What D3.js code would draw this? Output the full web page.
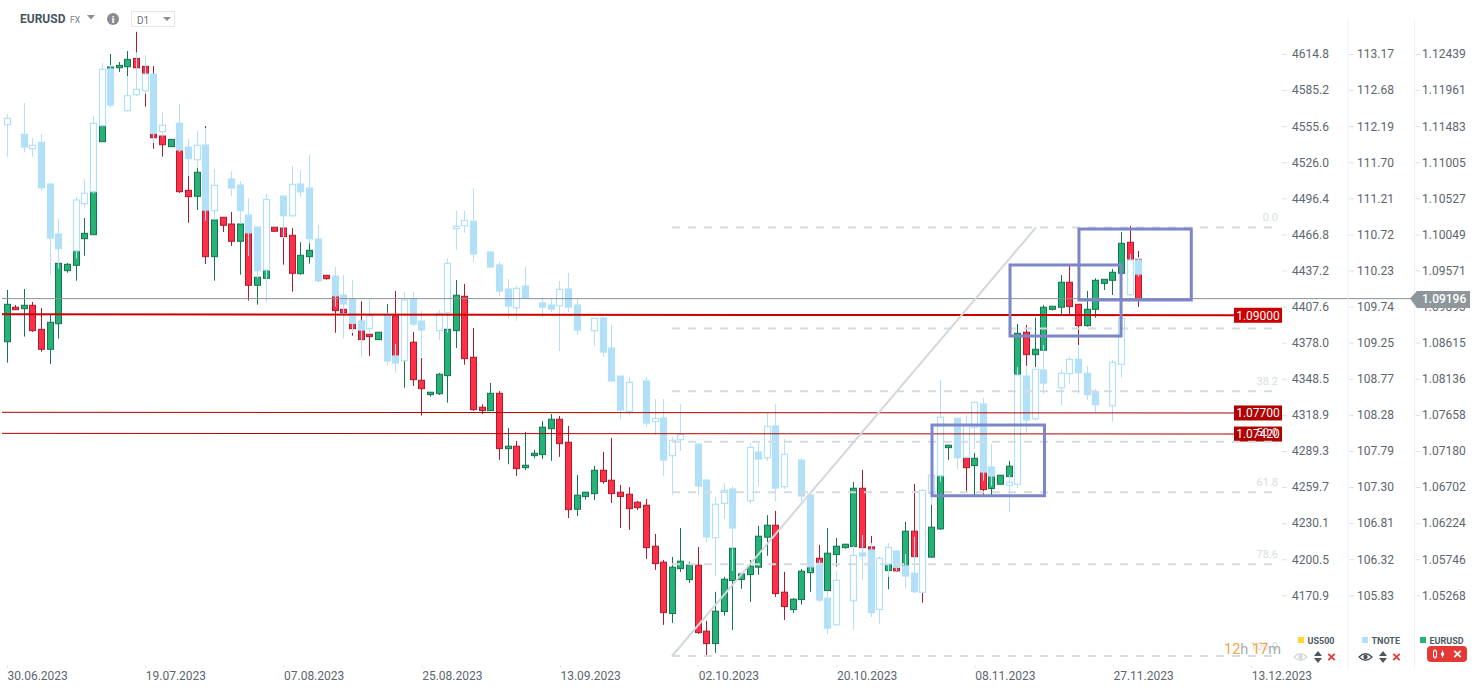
<!DOCTYPE html>
<html>
<head>
<meta charset="utf-8">
<script src="https://cdn.jsdelivr.net/npm/d3@7/dist/d3.min.js"></script>
<style>
html,body{margin:0;padding:0;background:#fff;}
svg{display:block;font-family:Roboto,sans-serif;}
</style>
</head>
<body>
<svg id="c" width="1482" height="694"></svg>
<script>
const eurOpen=[1.08627,1.09082,1.09063,1.09108,1.08791,1.08527,1.08865,1.09565,1.09636,1.09987,1.10040,1.11268,1.12214,1.12244,1.12258,1.12368,1.12263,1.11950,1.11343,1.11202,1.11237,1.10626,1.10547,1.10868,1.09750,1.10270,1.10181,1.09953,1.10168,1.09372,1.09464,1.10138,1.10128,1.10032,1.09525,1.09750,1.09746,1.09504,1.09442,1.09055,1.08870,1.08782,1.08725,1.08654,1.08742,1.08967,1.08412,1.08620,1.08118,1.07928,1.07941,1.08179,1.08773,1.09227,1.08422,1.07762,1.07717,1.07946,1.07215,1.07247,1.06964,1.07123,1.07136,1.07479,1.07603,1.07300,1.06415,1.06582,1.06621,1.06930,1.06798,1.06640,1.06613,1.06508,1.06468,1.05927,1.05716,1.05037,1.05631,1.05486,1.05676,1.04805,1.04641,1.05064,1.05473,1.05486,1.05552,1.05650,1.06046,1.06204,1.05320,1.05090,1.05222,1.05578,1.05768,1.05341,1.05816,1.05908,1.05922,1.06692,1.05918,1.05693,1.05605,1.05650,1.05588,1.06125,1.05812,1.05782,1.06155,1.07228,1.07231,1.07096,1.06991,1.07000,1.06688,1.06745,1.06846,1.08188,1.08752,1.08456,1.08514,1.09055,1.09082,1.09412,1.09121,1.08839,1.09055,1.09398,1.09438,1.09530,1.09940,1.09715];
const eurHigh=[1.09310,1.09112,1.09323,1.09152,1.09072,1.08980,1.09667,1.09667,1.09838,1.10260,1.10617,1.11502,1.12425,1.12320,1.12465,1.12719,1.12266,1.12266,1.11356,1.11299,1.11250,1.10815,1.10920,1.11475,1.10366,1.10274,1.10340,1.10181,1.10208,1.09561,1.09574,1.10138,1.10168,1.10128,1.09940,1.09926,1.09759,1.09508,1.09455,1.09508,1.08914,1.09161,1.08782,1.08752,1.09125,1.09297,1.08650,1.08756,1.08412,1.07964,1.08214,1.08848,1.09442,1.09389,1.08808,1.07801,1.08082,1.07977,1.07488,1.07317,1.07436,1.07198,1.07581,1.07673,1.07647,1.07515,1.06868,1.06644,1.06987,1.07172,1.07356,1.06736,1.06706,1.06525,1.06551,1.06089,1.05746,1.05786,1.06168,1.05720,1.05918,1.04941,1.05324,1.05522,1.05931,1.05574,1.05746,1.06195,1.06336,1.06393,1.05588,1.05244,1.05627,1.05878,1.05944,1.06168,1.06036,1.05957,1.06776,1.06934,1.06063,1.05706,1.05720,1.05654,1.06248,1.06749,1.05825,1.06472,1.06868,1.07264,1.07238,1.07106,1.07158,1.07000,1.06934,1.06864,1.07053,1.08861,1.08848,1.08944,1.09112,1.09099,1.09508,1.09627,1.09125,1.09297,1.09464,1.09455,1.09587,1.10076,1.10155,1.09825];
const eurLow=[1.08350,1.09046,1.08694,1.08756,1.08496,1.08333,1.08667,1.09538,1.09433,1.09763,1.10036,1.11264,1.12214,1.12188,1.12135,1.12240,1.11730,1.11175,1.11070,1.11202,1.10590,1.10198,1.10366,1.09653,1.09433,1.10076,1.09891,1.09512,1.09169,1.09116,1.09455,1.10085,1.09644,1.09288,1.09512,1.09657,1.09420,1.09446,1.08746,1.09006,1.08707,1.08637,1.08439,1.08654,1.08716,1.08386,1.08020,1.08043,1.07651,1.07902,1.07924,1.07822,1.08544,1.08324,1.07713,1.07673,1.07713,1.07066,1.07009,1.06855,1.06934,1.07092,1.07079,1.07053,1.07106,1.06300,1.06327,1.06542,1.06538,1.06753,1.06498,1.06168,1.06142,1.06406,1.05759,1.05614,1.04888,1.04914,1.05588,1.05442,1.04769,1.04483,1.04518,1.05011,1.04822,1.05363,1.05192,1.05548,1.05799,1.05258,1.04954,1.05046,1.05156,1.05324,1.05218,1.05341,1.05658,1.05895,1.05878,1.05838,1.05667,1.05588,1.05359,1.05592,1.05575,1.05772,1.05182,1.05779,1.06142,1.07066,1.07092,1.06648,1.06604,1.06604,1.06604,1.06745,1.06846,1.08122,1.08307,1.08294,1.08514,1.09037,1.08980,1.08993,1.08584,1.08826,1.08944,1.09310,1.09244,1.09530,1.09680,1.09086];
const eurClose=[1.09121,1.09050,1.09108,1.08773,1.08527,1.08884,1.09662,1.09649,1.09829,1.10058,1.10608,1.11475,1.12254,1.12276,1.12355,1.12244,1.11950,1.11320,1.11228,1.11299,1.10608,1.10542,1.10864,1.09750,1.10234,1.10164,1.09953,1.10181,1.09372,1.09478,1.09565,1.10085,1.10014,1.09530,1.09768,1.09834,1.09442,1.09459,1.09037,1.09010,1.08799,1.08654,1.08694,1.08752,1.08967,1.08412,1.08624,1.08126,1.08007,1.07960,1.08197,1.08791,1.09240,1.08403,1.07730,1.07717,1.07946,1.07215,1.07247,1.06951,1.06996,1.07154,1.07498,1.07603,1.07281,1.06410,1.06600,1.06640,1.06930,1.06780,1.06621,1.06582,1.06423,1.06436,1.05908,1.05697,1.05050,1.05650,1.05729,1.05676,1.04786,1.04641,1.05069,1.05491,1.05900,1.05561,1.05663,1.06059,1.06204,1.05301,1.05130,1.05227,1.05597,1.05772,1.05350,1.05834,1.05927,1.05953,1.06692,1.05908,1.05693,1.05614,1.05693,1.05601,1.06125,1.05789,1.05772,1.06178,1.06859,1.07260,1.07106,1.06964,1.07088,1.06674,1.06855,1.06864,1.06983,1.08738,1.08456,1.08527,1.09082,1.09095,1.09412,1.09090,1.08839,1.09055,1.09438,1.09451,1.09544,1.09926,1.09706,1.09196];

// TNOTE: one entry per bar, null where the bond market has no bar
const tnOpen=[112.199,null,112.069,111.874,111.961,111.396,110.720,null,110.494,111.130,111.292,112.186,112.953,null,112.389,112.605,112.659,112.885,112.104,null,112.218,111.897,111.725,111.924,111.035,null,111.464,111.383,110.977,110.814,110.232,null,111.234,110.967,111.396,111.342,110.652,null,110.151,109.894,109.836,109.542,109.438,null,109.623,109.068,109.005,109.836,109.542,null,109.411,109.654,110.791,110.832,110.891,null,110.476,110.300,109.975,109.722,110.016,null,109.786,109.759,109.749,109.975,109.759,null,109.411,109.583,109.176,108.797,108.320,null,108.730,108.179,108.229,107.719,107.935,null,107.877,107.390,106.608,107.074,107.268,null,107.110,107.769,107.688,108.121,107.299,null,107.660,107.187,106.262,105.788,105.431,null,105.756,106.402,106.442,105.639,106.253,106.429,106.226,106.127,105.870,107.210,107.448,null,108.225,107.697,108.103,108.418,107.566,null,107.318,107.332,108.797,108.219,108.879,null,108.639,108.829,109.023,108.834,108.590,null,108.396,108.956,109.898,110.368];
const tnHigh=[112.344,null,112.493,112.019,112.073,111.410,110.923,null,111.220,111.464,112.317,113.034,113.007,null,112.858,113.179,113.143,112.885,112.371,null,112.479,112.005,112.114,112.154,111.599,null,111.568,111.437,111.207,110.814,111.261,null,111.234,111.640,111.586,111.789,110.841,null,110.273,110.165,110.097,109.542,109.836,null,109.654,109.231,109.935,109.935,109.677,null,109.691,110.395,111.031,111.031,111.342,null,110.490,110.341,110.110,110.016,110.273,null,109.867,109.853,110.083,110.192,109.853,null,109.583,109.596,109.488,108.797,108.784,null,108.784,108.486,108.486,107.972,108.418,null,107.877,107.390,107.160,107.349,107.309,null,107.891,107.918,108.297,108.418,107.945,null,107.688,107.187,106.307,105.891,106.158,null,106.496,106.645,106.537,106.361,106.537,106.429,106.388,106.622,107.268,107.453,108.743,null,108.225,108.270,108.442,108.500,107.877,null,107.457,108.919,108.919,108.888,109.217,null,108.892,109.055,109.217,108.933,108.622,null,109.014,109.583,110.449,110.404];
const tnLow=[111.766,null,111.830,111.766,111.306,110.169,110.250,null,110.385,111.076,111.270,112.181,112.429,null,112.375,112.588,112.615,111.951,112.037,null,111.830,111.505,111.613,110.900,110.909,null,111.234,110.855,110.422,110.120,109.803,null,110.665,110.954,111.224,110.598,110.083,null,109.736,109.308,109.380,109.059,109.366,null,108.937,108.842,109.001,109.474,109.055,null,109.285,109.384,110.503,110.737,110.341,null,110.273,109.880,109.569,109.546,109.853,null,109.596,109.664,109.136,109.664,109.352,null,109.204,109.055,108.716,108.215,108.270,null,108.107,107.999,107.444,107.187,107.782,null,107.187,106.537,106.090,106.862,106.158,null,107.078,107.309,107.647,107.105,107.268,null,107.105,106.144,105.729,105.305,105.413,null,105.359,106.036,105.535,105.441,106.077,106.158,105.918,105.860,105.860,107.051,107.367,null,107.534,107.697,107.809,107.380,107.309,null,106.961,107.281,108.030,108.192,108.554,null,108.405,108.693,108.558,108.473,108.301,null,108.179,108.775,109.880,110.142];
const tnClose=[112.286,null,111.897,111.920,111.346,110.665,110.521,null,111.180,111.270,112.218,112.949,112.466,null,112.592,112.678,112.885,112.083,112.191,null,111.857,111.739,111.920,111.044,111.379,null,111.342,111.035,110.737,110.223,111.189,null,110.967,111.392,111.292,110.656,110.087,null,109.884,109.772,109.511,109.420,109.610,null,109.001,108.973,109.826,109.501,109.420,null,109.646,110.323,110.824,110.905,110.449,null,110.273,109.948,109.745,109.985,109.853,null,109.731,109.704,109.971,109.731,109.420,null,109.579,109.122,108.730,108.337,108.712,null,108.161,108.225,107.660,107.927,108.008,null,107.308,106.618,107.061,107.250,106.740,null,107.832,107.674,108.117,107.281,107.738,null,107.173,106.216,105.765,105.386,106.032,null,106.370,106.361,105.594,106.330,106.479,106.208,106.090,105.878,107.250,107.453,108.238,null,107.692,108.134,108.442,107.498,107.444,null,107.359,108.811,108.202,108.888,108.703,null,108.834,109.023,108.842,108.544,108.409,null,108.983,109.579,110.368,110.178];

const dateTickBars=[0,16,32,48,64,80,96,112,128,144];
const dateLabels=["30.06.2023","19.07.2023","07.08.2023","25.08.2023","13.09.2023","02.10.2023","20.10.2023","08.11.2023","27.11.2023","13.12.2023"];
const us500Labels=["4614.8","4585.2","4555.6","4526.0","4496.4","4466.8","4437.2","4407.6","4378.0","4348.5","4318.9","4289.3","4259.7","4230.1","4200.5","4170.9"];
const tnoteLabels=["113.17","112.68","112.19","111.70","111.21","110.72","110.23","109.74","109.25","108.77","108.28","107.79","107.30","106.81","106.32","105.83"];
const eurLabels=["1.12439","1.11961","1.11483","1.11005","1.10527","1.10049","1.09571","1.09093","1.08615","1.08136","1.07658","1.07180","1.06702","1.06224","1.05746","1.05268"];

const levelStart=[1.08989,1.07695,1.07417];
const levelEnd=[1.08976,1.07686,1.07408];
const levelLabels=["1.09000","1.07700","1.07420"];
const levelColors=["#cc0000","#b00000","#b00000"];
const levelWidths=[2,1,1];

const fibRatios=[0,0.236,0.382,0.5,0.618,0.786,1];
const fibLabels=["0.0","","38.2","50.0","61.8","78.6","100.0"];
const fibHigh=1.10136, fibLow=1.04477;
const fibStartBar=76.97, fibDiagEndBar=119.1, fibEndBar=147.34;

const boxBarsFrom=[107.06,116.09,124.07];
const boxBarsTo=[120.08,128.94,137.07];
const boxTop=[1.07527,1.09640,1.10115];
const boxBottom=[1.06593,1.08702,1.09178];

const lastPrice=1.09196;

const svg=d3.select("#c");
const x=d3.scaleLinear().domain([0,160]).range([7,1389.4]);
const y=d3.scaleLinear().domain([1.12439,1.05268]).range([53,596.1]);
const yT=d3.scaleLinear().domain([113.17,105.82]).range([53,596]);
const row=d3.scaleLinear().domain([0,15]).range([54,595.3]);

const GREEN="#26b276",GREEND="#14754e",RED="#fd3047",REDD="#ab1c2f",BLUE="#b3e0f9";
const px=i=>Math.floor(x(i));

// EURUSD
const eur=d3.range(eurOpen.length).map(i=>({i,o:eurOpen[i],h:eurHigh[i],l:eurLow[i],c:eurClose[i]}));
const gE=svg.append("g");
gE.selectAll("line").data(eur).join("line")
 .attr("x1",d=>px(d.i)+.5).attr("x2",d=>px(d.i)+.5)
 .attr("y1",d=>y(d.h)).attr("y2",d=>y(d.l))
 .attr("stroke",d=>d.c>=d.o?GREEND:REDD).attr("stroke-width",1);
gE.selectAll("rect").data(eur).join("rect")
 .attr("x",d=>px(d.i)-2.5).attr("width",6)
 .attr("y",d=>y(Math.max(d.o,d.c))).attr("height",d=>Math.abs(y(d.o)-y(d.c)))
 .attr("fill",d=>d.c>=d.o?GREEN:RED)
 .attr("stroke",d=>d.c>=d.o?GREEND:REDD).attr("stroke-width",1);

// TNOTE
const tn=d3.range(tnOpen.length).filter(i=>tnOpen[i]!==null).map(i=>({i,o:tnOpen[i],h:tnHigh[i],l:tnLow[i],c:tnClose[i]}));
const gT=svg.append("g");
gT.selectAll("line").data(tn).join("line")
 .attr("x1",d=>px(d.i)+.5).attr("x2",d=>px(d.i)+.5)
 .attr("y1",d=>yT(d.h)).attr("y2",d=>yT(d.l))
 .attr("stroke",BLUE).attr("stroke-width",1);
gT.selectAll("rect").data(tn).join("rect")
 .attr("x",d=>px(d.i)-2.5).attr("width",6)
 .attr("y",d=>yT(Math.max(d.o,d.c))).attr("height",d=>Math.abs(yT(d.o)-yT(d.c)))
 .attr("fill",d=>d.c>d.o?"#fff":BLUE)
 .attr("stroke",BLUE).attr("stroke-width",1.2);

// last price line
svg.append("line").attr("x1",2).attr("x2",1412).attr("y1",y(lastPrice)).attr("y2",y(lastPrice))
 .attr("stroke","#8b9195").attr("stroke-width",1);

// level lines
levelStart.forEach((v,k)=>{
  svg.append("line").attr("x1",2).attr("x2",1235).attr("y1",y(v)).attr("y2",y(levelEnd[k]))
   .attr("stroke",levelColors[k]).attr("stroke-width",levelWidths[k]);
  const cy=y(levelEnd[k]);
  svg.append("rect").attr("x",1234).attr("y",cy-7.5).attr("width",48).attr("height",15).attr("fill",levelColors[k]);
  svg.append("text").attr("x",1258).attr("y",cy).attr("dy","0.36em").attr("text-anchor","middle")
   .attr("fill","#fff").attr("font-size",12).text(levelLabels[k]);
});

// Fibonacci
const fibY=r=>y(fibHigh-r*(fibHigh-fibLow));
const gF=svg.append("g");
gF.selectAll("line").data(fibRatios).join("line")
 .attr("x1",x(fibStartBar)).attr("x2",x(fibEndBar))
 .attr("y1",fibY).attr("y2",fibY)
 .attr("stroke","#d5dce0").attr("stroke-width",2).attr("stroke-dasharray","8 8");
gF.append("line").attr("x1",x(fibStartBar)).attr("y1",fibY(1)).attr("x2",x(fibDiagEndBar)).attr("y2",fibY(0))
 .attr("stroke","#d3d8dc").attr("stroke-width",2);
gF.selectAll("text").data(fibRatios.filter((d,k)=>fibLabels[k]!=="")).join("text")
 .attr("x",1278).attr("y",fibY).attr("dy",-6).attr("text-anchor","end")
 .attr("font-size",11).attr("fill","#d8dde1").text(d=>fibLabels[fibRatios.indexOf(d)]);

// boxes
boxBarsFrom.forEach((b,k)=>{
  svg.append("rect").attr("x",x(b)).attr("width",x(boxBarsTo[k])-x(b))
   .attr("y",y(boxTop[k])).attr("height",y(boxBottom[k])-y(boxTop[k]))
   .attr("fill","none").attr("stroke","#7c86c9").attr("stroke-width",3);
});

// separators
[1348,1414.5].forEach(v=>svg.append("line").attr("x1",v).attr("x2",v).attr("y1",20).attr("y2",668)
 .attr("stroke","#eef0f2").attr("stroke-width",1));

// right axes
function rightAxis(x0,labels,lx){
  const g=svg.append("g").attr("transform",`translate(${x0},0)`)
   .call(d3.axisRight(row).tickValues(d3.range(16)).tickSize(5).tickPadding(lx).tickFormat(i=>labels[i]));
  g.select(".domain").remove();
  g.selectAll("line").attr("stroke","#dfe2e5");
  g.selectAll("text").attr("fill","#5c666e").attr("font-size",12).attr("font-family","Roboto,sans-serif");
}
rightAxis(1282,us500Labels,5);
rightAxis(1349,tnoteLabels,3);
rightAxis(1415.5,eurLabels,1.5);

// last price tag
svg.append("path").attr("d",`M1410,${y(lastPrice)} L1417,291 L1470,291 L1470,308 L1417,308 Z`).attr("fill","#8c969b");
svg.append("text").attr("x",1422).attr("y",y(lastPrice)).attr("dy","0.36em").attr("fill","#fff")
 .attr("font-size",12).attr("font-weight",500).text("1.09196");

// date axis
const gX=svg.append("g").attr("transform","translate(0,665)")
 .call(d3.axisBottom(x).tickValues(dateTickBars).tickSize(3).tickPadding(3).tickFormat((d,k)=>dateLabels[k]));
gX.select(".domain").remove();
gX.selectAll("line").attr("stroke","#e3e6e8");
gX.selectAll("text").attr("text-anchor","start").attr("fill","#5c666e").attr("font-size",12).attr("font-family","Roboto,sans-serif");

// header
svg.append("text").attr("x",20).attr("y",23).attr("font-size",12).attr("font-weight",700).attr("fill","#47565f").text("EURUSD");
svg.append("text").attr("x",70).attr("y",23).attr("font-size",8.5).attr("font-weight",500).attr("fill","#8d9499").text("FX");
svg.append("path").attr("d","M87,15 L95,15 L91,19.5 Z").attr("fill","#8a9095");
svg.append("circle").attr("cx",113).attr("cy",19).attr("r",6).attr("fill","#8a8d90");
svg.append("text").attr("x",113).attr("y",22.5).attr("text-anchor","middle").attr("font-size",9.5).attr("font-weight",900).attr("fill","#fff").text("i");
svg.append("rect").attr("x",131.5).attr("y",11.5).attr("width",43).attr("height",15).attr("fill","#fff").attr("stroke","#e4e6e8");
svg.append("text").attr("x",137).attr("y",24).attr("font-size",10).attr("fill","#6a7378").text("D1");
svg.append("path").attr("d","M163,17 L171,17 L167,21 Z").attr("fill","#8a9095");

// countdown
const cd=svg.append("text").attr("x",1224).attr("y",654).attr("font-size",14.5);
[["12","#f4a640"],["h ","#a4abaf"],["17","#f4a640"],["m","#a4abaf"]].forEach(p=>cd.append("tspan").attr("fill",p[1]).text(p[0]));

// legend
function eye(cx,cy,col){
  const g=svg.append("g").attr("transform",`translate(${cx},${cy})`);
  g.append("path").attr("d","M-6.5,0 Q0,-6.5 6.5,0 Q0,6.5 -6.5,0 Z").attr("fill","none").attr("stroke",col).attr("stroke-width",1.3);
  g.append("circle").attr("r",2.2).attr("fill",col);
}
function arrows(cx,cy){
  svg.append("path").attr("d",`M${cx-4},${cy-1} L${cx+4},${cy-1} L${cx},${cy-6} Z M${cx-4},${cy+1} L${cx+4},${cy+1} L${cx},${cy+6} Z`).attr("fill","#4c565c");
}
function cross(cx,cy,col){
  svg.append("path").attr("d",`M${cx-3.2},${cy-3.2} L${cx+3.2},${cy+3.2} M${cx+3.2},${cy-3.2} L${cx-3.2},${cy+3.2}`).attr("stroke",col).attr("stroke-width",1.8);
}
const legendNames=["US500","TNOTE","EURUSD"];
const legendColors=["#fdd835","#b3e0f9","#26b276"];
const legendSquareX=[1298,1362,1420];
legendNames.forEach((n,k)=>{
  svg.append("rect").attr("x",legendSquareX[k]).attr("y",637).attr("width",6).attr("height",6).attr("fill",legendColors[k]);
  svg.append("text").attr("x",legendSquareX[k]+9.5).attr("y",643.5).attr("font-size",9).attr("font-weight",700).attr("fill","#4e5a62").text(n);
});
eye(1300.5,657,"#d3d8da"); arrows(1318,657); cross(1331.5,657,"#e53935");
eye(1365.5,657,"#4c565c"); arrows(1383,657); cross(1396.5,657,"#e53935");
svg.append("rect").attr("x",1427).attr("y",646).attr("width",40).attr("height",16).attr("rx",4).attr("fill","#e53935");
svg.append("path").attr("d","M1435,649 V659 M1442.5,650.5 V657.5").attr("stroke","#fff").attr("stroke-width",1);
svg.append("rect").attr("x",1433.5).attr("y",651).attr("width",3).attr("height",6).attr("fill","#e53935").attr("stroke","#fff");
svg.append("rect").attr("x",1441).attr("y",652.5).attr("width",3).attr("height",3).attr("fill","#fff");
cross(1457.5,654,"#fff");
</script>
</body>
</html>
